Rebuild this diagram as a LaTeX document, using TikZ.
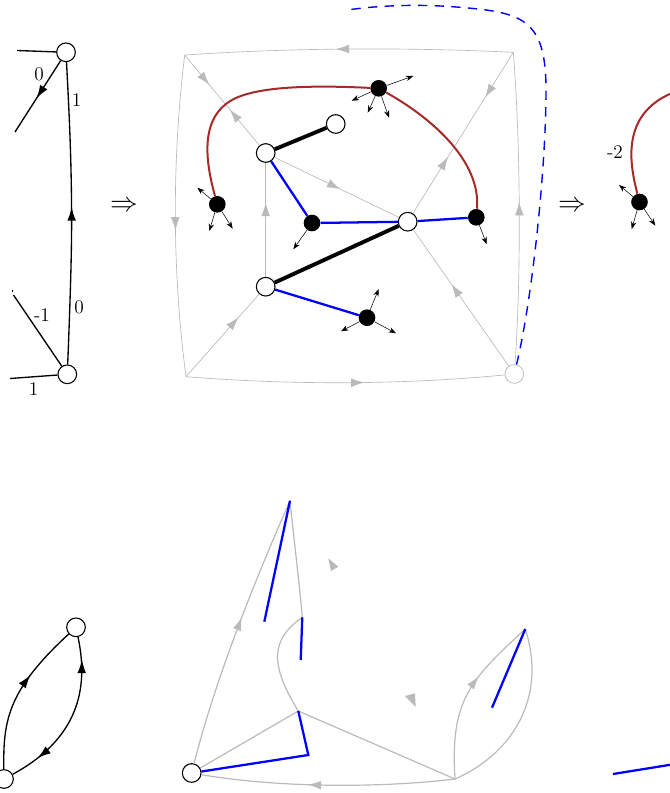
\documentclass[tikz,border=0pt]{standalone}
\usetikzlibrary{arrows.meta,decorations.markings}
\tikzset{
  wnode/.style={circle,draw=black,fill=white,line width=0.8pt,minimum size=14pt,inner sep=0pt},
  gnode/.style={circle,draw=black!25,fill=white,line width=0.6pt,minimum size=14pt,inner sep=0pt},
  bnode/.style={circle,fill=black,minimum size=12.5pt,inner sep=0pt},
  gedge/.style={draw=black!27,line width=0.5pt},
  gedgeb/.style={draw=black!27,line width=0.9pt},
  blueedge/.style={draw=blue,line width=1.7pt},
  thick edge/.style={draw=black,line width=2.9pt},
  rededge/.style={line width=1.5pt,draw={rgb,255:red,165;green,42;blue,42}},
  dashedge/.style={draw=blue,line width=1.05pt,dash pattern=on 7pt off 5.5pt},
  bedge/.style={draw=black,line width=1pt},
  sarrow/.style={-{Stealth[length=5.5pt,width=4pt]},draw=black,line width=0.4pt},
  gmark/.style={postaction={decorate,decoration={markings,mark=at position #1 with {\arrow{Latex[length=10pt,width=6.5pt,black!27]}}}}},
  gmarks/.style={postaction={decorate,decoration={markings,mark=at position #1 with {\arrow{Latex[length=6pt,width=4.2pt,black!27]}}}}},
  gmarkr/.style={postaction={decorate,decoration={markings,mark=at position #1 with {\arrow{Latex[reversed,length=10pt,width=6.5pt,black!27]}}}}},
  kmark/.style={postaction={decorate,decoration={markings,mark=at position #1 with {\arrow{Latex[length=10pt,width=6.5pt,black]}}}}},
  kmarkr/.style={postaction={decorate,decoration={markings,mark=at position #1 with {\arrow{Latex[reversed,length=10pt,width=6.5pt,black]}}}}},
  lab/.style={inner sep=0pt,font=\fontsize{14.5}{16}\selectfont},
  impl/.style={inner sep=0pt,font=\fontsize{22}{24}\selectfont},
  gtri/.style={fill=black!27,draw=none}
}
\begin{document}
\begin{tikzpicture}[x=0.75pt,y=-0.75pt]
\useasboundingbox (0,0) rectangle (670,793);
\clip (0,0) rectangle (670,793);
% ---------- left column, top
\node[wnode] (lt) at (66,52.3) {};
\node[wnode] (lb) at (67.3,374.3) {};
\coordinate (lt1) at (17,50.5);
\coordinate (lt2) at (15,132);
\coordinate (lb1) at (13.5,295);
\coordinate (lb2) at (10,378.5);
\coordinate (ld1) at (12.5,289.5);
\coordinate (ld2) at (12.5,291.5);
\draw[bedge] (lt) -- (lt1);
\draw[bedge,kmark=0.53] (lt) -- (lt2);
\draw[bedge] (lb) -- (lb1);
\draw[bedge] (ld1) -- (ld2);
\draw[bedge] (lb) -- (lb2);
\draw[bedge,kmark=0.52] (lb) .. controls (71,280) and (72,240) .. (71.5,200) .. controls (71,150) and (69,110) .. (lt);
\node[lab] (la) at (39,74) {0};
\node[lab] (lc) at (76.5,100) {1};
\node[lab] (ld) at (79,307) {0};
\node[lab] (le) at (42,315.5) {-1};
\node[lab] (lf) at (33.5,389) {1};
\node[impl] (imp1) at (124,206) {$\Rightarrow$};
\node[impl] (imp2) at (572,206) {$\Rightarrow$};
% ---------- main top figure
\coordinate (TL) at (184.7,55);
\coordinate (TR) at (513.3,52.3);
\coordinate (BL) at (186,376.7);
\node[gnode] (BR) at (514.3,374) {};
\node[wnode] (A) at (265.7,153) {};
\node[wnode] (B) at (335.7,124) {};
\node[wnode] (C) at (407.7,221.7) {};
\node[wnode] (D) at (265.7,286.7) {};
\draw[gedge,gmark=0.54] (TR) .. controls (400,47) and (290,48) .. (TL);
\draw[gedge,gmark=0.545] (TL) .. controls (172,160) and (172,270) .. (BL);
\draw[gedge,gmark=0.56] (BL) .. controls (290,385) and (400,385) .. (BR);
\draw[gedge,gmark=0.52] (BR) .. controls (521,280) and (521,150) .. (TR);
\draw[gedge,gmark=0.28,gmarkr=0.72] (TR) -- (C);
\draw[gedge,gmark=0.33,gmarkr=0.72] (TL) -- (A);
\draw[gedge,gmark=0.72] (BL) -- (D);
\draw[gedge,gmark=0.65] (D) -- (A);
\draw[gedge,gmark=0.53] (A) -- (C);
\draw[gedge,gmark=0.6] (BR) -- (C);
\draw[gedge,gmarks=0.55] (A) -- (B);
\draw[gedge,gmarks=0.33,gmarks=0.7] (D) -- (C);
% thick black
\draw[thick edge] (A) -- (B);
\draw[thick edge] (D) -- (C);
% blue
\node[bnode] (N1) at (378.7,88.3) {};
\node[bnode] (N2) at (217.3,204.3) {};
\node[bnode] (N3) at (312,223) {};
\node[bnode] (N4) at (476.3,217.3) {};
\node[bnode] (N5) at (367,317.7) {};
\draw[blueedge] (A) -- (N3);
\draw[blueedge] (N3) -- (C);
\draw[blueedge] (C) -- (N4);
\draw[blueedge] (D) -- (N5);
% red
\draw[rededge] (N1) .. controls (330,86) and (260,84) .. (232,100) .. controls (200,118) and (205,160) .. (N2);
\draw[rededge] (N1) .. controls (430,117) and (481,160) .. (N4);
% small arrows
\coordinate (a11) at (413.3,76);
\coordinate (a12) at (351.7,100.7);
\coordinate (a13) at (367.7,112.7);
\coordinate (a14) at (389,117.7);
\coordinate (a21) at (197.3,187.7);
\coordinate (a22) at (209.3,231);
\coordinate (a23) at (232.7,228.7);
\coordinate (a31) at (293.3,249.3);
\coordinate (a41) at (486.7,244.3);
\coordinate (a51) at (378.7,289);
\coordinate (a52) at (341,331.3);
\coordinate (a53) at (396,333.3);
\foreach \s/\t in {N1/a11,N1/a12,N1/a13,N1/a14,N2/a21,N2/a22,N2/a23,N3/a31,N4/a41,N5/a51,N5/a52,N5/a53}
  \draw[sarrow] (\s) -- (\t);
% dashed
\coordinate (dashend) at (347,10);
\draw[dashedge] (BR) .. controls (532,300) and (546,170) .. (546,90) .. controls (546,15) and (520,12) .. (450,6.5) .. controls (410,4) and (375,6) .. (dashend);
% ---------- right column, top
\node[bnode] (R1) at (639.5,202) {};
\coordinate (Rend) at (672,93);
\draw[rededge] (R1) .. controls (630,165) and (620,115) .. (Rend);
\coordinate (r1) at (619,185);
\coordinate (r2) at (631.7,229);
\coordinate (r3) at (655.3,225.7);
\foreach \t in {r1,r2,r3} \draw[sarrow] (R1) -- (\t);
\node[lab] (mtwo) at (615,152) {-2};
% ---------- bottom left
\node[wnode] (bt) at (76,627.3) {};
\node[wnode] (bb) at (4,779) {};
\draw[bedge,kmark=0.64] (bb) .. controls (3,720) and (8,690) .. (bt);
\draw[bedge,kmarkr=0.22,kmark=0.82] (bt) .. controls (87,680) and (85,735) .. (bb);
% ---------- bottom middle
\node[wnode] (O) at (191.7,773) {};
\coordinate (apex) at (290,500.7);
\coordinate (P) at (302.3,617.3);
\coordinate (Q) at (298.3,711);
\coordinate (Rr) at (455,779);
\coordinate (S) at (525.3,629);
\coordinate (b1) at (264.3,621.7);
\coordinate (b2) at (300.7,660);
\coordinate (b3) at (308.3,755);
\coordinate (b4) at (492,707.7);
\draw[gedgeb,gmark=0.55] (O) .. controls (215,680) and (255,580) .. (apex);
\draw[gedgeb] (apex) .. controls (294,540) and (299,580) .. (P);
\draw[gedgeb] (P) .. controls (270,640) and (270,665) .. (Q);
\draw[gedgeb] (Q) -- (O);
\draw[gedgeb] (Q) -- (Rr);
\draw[gedgeb,gmark=0.58] (Rr) .. controls (380,788) and (280,788) .. (O);
\draw[gedgeb,gmark=0.62] (Rr) .. controls (450,700) and (470,680) .. (S);
\draw[gedgeb] (S) .. controls (548,700) and (510,755) .. (Rr);
\draw[blueedge] (apex) -- (b1);
\draw[blueedge] (P) -- (b2);
\draw[blueedge] (Q) -- (b3) -- (O);
\draw[blueedge] (S) -- (b4);
\fill[gtri] (328.3,558.3) -- (338.3,566.7) -- (331,571) -- cycle;
\fill[gtri] (405,696) -- (415,693.3) -- (415.7,706.7) -- cycle;
% far right blue
\coordinate (f1) at (613,774);
\coordinate (f2) at (672,764.5);
\draw[blueedge] (f1) -- (f2);
\end{tikzpicture}
\end{document}
